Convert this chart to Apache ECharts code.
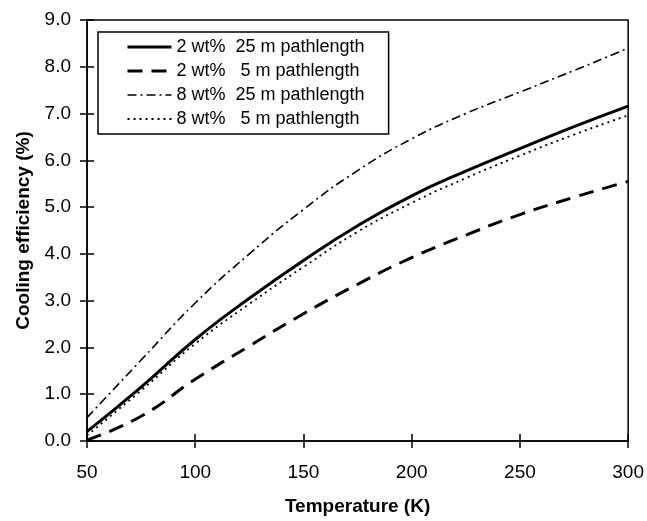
<!DOCTYPE html>
<html><head><meta charset="utf-8">
<script src="https://cdn.jsdelivr.net/npm/echarts@6/dist/echarts.min.js"></script>
<style>html,body{margin:0;padding:0;background:#fff}#c{width:647px;height:521px}</style>
</head><body><div id="c"></div>
<script>
var temps = [50, 75, 100, 125, 150, 175, 200, 225, 250, 275, 300];
var s2wt25m = [0.20, 1.15, 2.17, 3.05, 3.86, 4.60, 5.24, 5.77, 6.25, 6.72, 7.16];
var s2wt5m  = [0.02, 0.53, 1.32, 2.03, 2.72, 3.35, 3.92, 4.40, 4.84, 5.21, 5.55];
var s8wt25m = [0.50, 1.73, 2.95, 4.00, 4.95, 5.78, 6.46, 7.00, 7.46, 7.92, 8.40];
var s8wt5m  = [0.12, 1.08, 2.08, 2.93, 3.72, 4.47, 5.09, 5.62, 6.10, 6.55, 6.96];
var names = ['2 wt%  25 m pathlength', '2 wt%   5 m pathlength', '8 wt%  25 m pathlength', '8 wt%   5 m pathlength'];
var yTicks = [0,1,2,3,4,5,6,7,8,9];
var xTicks = [50,100,150,200,250,300];

function pairs(ys){ return temps.map(function(t,i){return [t, ys[i]];}); }
var FONT = 'Liberation Sans, Arial, sans-serif';
var widths = [3, 3, 1.6, 1.8];
var dashes = ['solid', [15,9], [9,4,2,4], [2,4]];
var chart = echarts.init(document.getElementById('c'), null, {renderer:'canvas'});
function mk(i, data){
  return {name:names[i], type:'line', data:pairs(data), smooth:0.5, symbol:'none', xAxisIndex:0, yAxisIndex:0,
    lineStyle:{color:'#000', width:widths[i], type:dashes[i]}, itemStyle:{color:'#000'}};
}
chart.setOption({
  animation:false,
  backgroundColor:'#fff',
  grid:{left:87, right:16, top:20, bottom:76, show:true, borderColor:'#000', borderWidth:1.5},
  legend:{orient:'vertical', left:98, top:32, padding:[6,24,6,28], itemGap:6, itemWidth:44, itemHeight:14,
    borderColor:'#000', borderWidth:1.5, backgroundColor:'#fff',
    itemStyle:{opacity:0},
    textStyle:{fontFamily:FONT, fontSize:18, color:'#000'},
    data:names.map(function(n,i){return {name:n, lineStyle:{width:widths[i], type:dashes[i], color:'#000'}};})
  },
  xAxis:[{type:'value', min:50, max:300, interval:50,
    axisLine:{lineStyle:{color:'#000', width:1.5}}, axisTick:{show:true, length:7, inside:false, lineStyle:{color:'#000', width:1.5}},
    axisLabel:{fontFamily:FONT, fontSize:19, color:'#000', margin:22, formatter:function(v){return xTicks.indexOf(v)>=0? String(v):'';}},
    splitLine:{show:false},
    name:'Temperature (K)', nameLocation:'middle', nameGap:56, nameTextStyle:{fontFamily:FONT, fontSize:19, fontWeight:'bold', color:'#000'}},
    {type:'value', min:50, max:300, interval:50, position:'bottom', axisLine:{show:false}, axisLabel:{show:false}, splitLine:{show:false},
    axisTick:{show:true, length:7, inside:true, lineStyle:{color:'#000', width:1.5}}}],
  yAxis:[{type:'value', min:0, max:9, interval:1,
    axisLine:{show:true, lineStyle:{color:'#000', width:1.5}}, axisTick:{show:true, length:7, inside:false, lineStyle:{color:'#000', width:1.5}},
    axisLabel:{fontFamily:FONT, fontSize:19, color:'#000', margin:16, formatter:function(v){return yTicks.indexOf(v)>=0? v.toFixed(1):'';}},
    splitLine:{show:false},
    name:'Cooling efficiency (%)', nameLocation:'middle', nameGap:54, nameRotate:90, nameTextStyle:{fontFamily:FONT, fontSize:19, fontWeight:'bold', color:'#000'}},
    {type:'value', min:0, max:9, interval:1, position:'left', axisLine:{show:false}, axisLabel:{show:false}, splitLine:{show:false},
    axisTick:{show:true, length:7, inside:true, lineStyle:{color:'#000', width:1.5}}}],
  series:[
    mk(0, s2wt25m),
    mk(1, s2wt5m),
    mk(2, s8wt25m),
    mk(3, s8wt5m)
  ]
});
</script></body></html>
